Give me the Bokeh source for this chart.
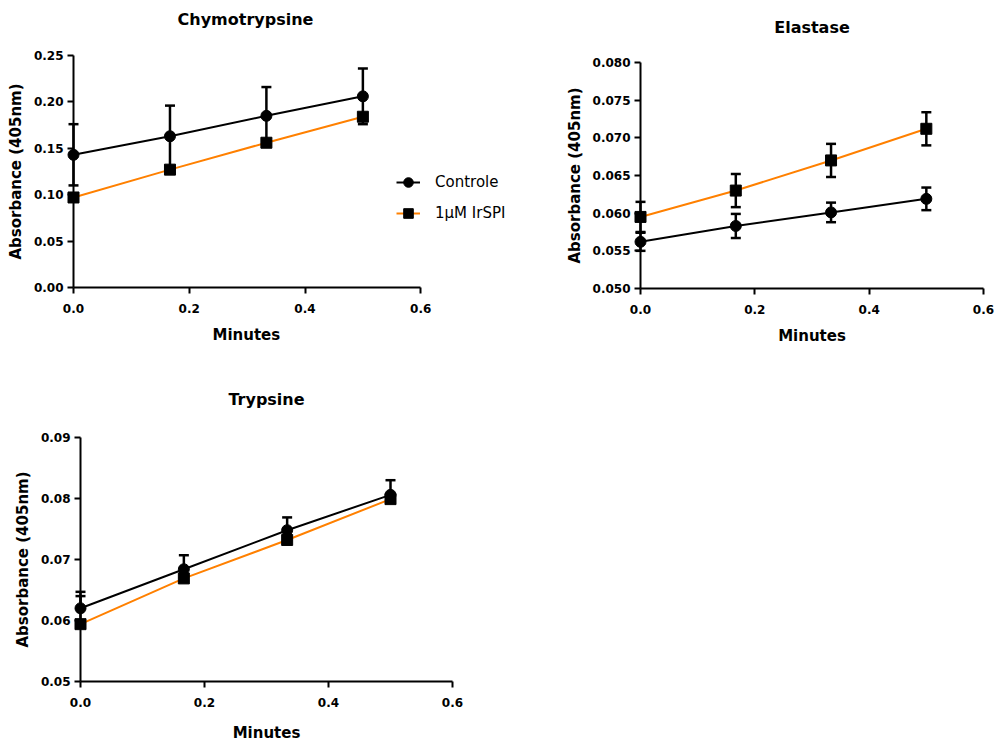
from bokeh.plotting import figure
from bokeh.models import (ColumnDataSource, Range1d, FixedTicker, NumeralTickFormatter,
                          Legend, LegendItem, Title)
from bokeh.layouts import column, row
from bokeh.embed import file_html
from bokeh.resources import INLINE

# ---------------- data ----------------
minutes = [0.0, 0.1667, 0.3333, 0.5]
x_ticks = [0.0, 0.2, 0.4, 0.6]

chymo_ctrl = [0.143, 0.163, 0.185, 0.206]
chymo_ctrl_err_up = [0.033, 0.033, 0.031, 0.030]
chymo_ctrl_err_dn = [0.033, 0.033, 0.031, 0.030]
chymo_irspi = [0.097, 0.127, 0.156, 0.184]
chymo_irspi_err_up = [0.003, 0.003, 0.003, 0.003]
chymo_irspi_err_dn = [0.003, 0.003, 0.003, 0.003]
chymo_yticks = [0.0, 0.05, 0.10, 0.15, 0.20, 0.25]

elast_ctrl = [0.0562, 0.0583, 0.0601, 0.0619]
elast_ctrl_err_up = [0.0012, 0.0016, 0.0013, 0.0015]
elast_ctrl_err_dn = [0.0012, 0.0016, 0.0013, 0.0015]
elast_irspi = [0.0595, 0.0630, 0.0670, 0.0712]
elast_irspi_err_up = [0.0020, 0.0022, 0.0022, 0.0022]
elast_irspi_err_dn = [0.0020, 0.0022, 0.0022, 0.0022]
elast_yticks = [0.050, 0.055, 0.060, 0.065, 0.070, 0.075, 0.080]

tryp_ctrl = [0.0620, 0.0684, 0.0748, 0.0806]
tryp_ctrl_err_up = [0.0027, 0.0023, 0.0021, 0.0024]
tryp_ctrl_err_dn = [0.0, 0.0, 0.0, 0.0]
tryp_irspi = [0.0594, 0.0669, 0.0732, 0.0799]
tryp_irspi_err_up = [0.0046, 0.0, 0.0, 0.0]
tryp_irspi_err_dn = [0.0, 0.0, 0.0, 0.0]
tryp_yticks = [0.05, 0.06, 0.07, 0.08, 0.09]

series_names = ["Controle", "1\u00b5M IrSPI"]
x_label = "Minutes"
y_label = "Absorbance (405nm)"
ORANGE = "#FF8000"
FONT = "DejaVu Sans"


def panel(title, ctrl, cu, cd, irs, iu, idn, yticks, yfmt,
          width, height, bl, br, bt, bb, spacer, x_end=0.6, title_offset=None,
          xlabel_offset=None, xlabel_standoff=13, with_legend=False):
    p = figure(width=width, height=height, output_backend="svg", toolbar_location=None,
               x_range=Range1d(0, x_end), y_range=Range1d(yticks[0], yticks[-1]),
               min_border_left=bl, min_border_right=br, min_border_top=bt,
               min_border_bottom=bb)
    p.outline_line_color = None
    p.grid.visible = False

    # spacer title (closest to the frame) then the real title above it
    p.add_layout(Title(text=" ", text_font_size="1px", standoff=spacer), "above")
    t = Title(text=title, text_font=FONT, text_font_size="16px", text_font_style="bold",
              text_color="black", standoff=0, vertical_align="top")
    if title_offset is None:
        t.align = "center"
    else:
        t.align = "left"
        t.offset = title_offset
    p.add_layout(t, "above")

    for ax in (p.xaxis[0], p.yaxis[0]):
        ax.axis_line_width = 2
        ax.axis_line_color = "black"
        ax.major_tick_line_width = 2
        ax.major_tick_line_color = "black"
        ax.major_tick_out = 6
        ax.major_tick_in = 0
        ax.minor_tick_line_color = None
        ax.major_label_text_font = FONT
        ax.major_label_text_font_style = "bold"
        ax.major_label_text_font_size = "12px"
        ax.major_label_text_color = "black"
        ax.axis_label_text_font = FONT
        ax.axis_label_text_font_style = "bold"
        ax.axis_label_text_font_size = "15px"
        ax.axis_label_text_color = "black"

    p.xaxis.ticker = FixedTicker(ticks=x_ticks)
    p.xaxis.bounds = (x_ticks[0], x_ticks[-1])
    p.xaxis.formatter = NumeralTickFormatter(format="0.0")
    p.xaxis.major_label_standoff = 10
    if xlabel_offset is None:
        p.xaxis.axis_label = x_label
        p.xaxis.axis_label_standoff = xlabel_standoff
    else:
        xt = Title(text=x_label, text_font=FONT, text_font_size="15px",
                   text_font_style="bold", text_color="black", standoff=20,
                   vertical_align="top", align="left", offset=xlabel_offset)
        p.add_layout(xt, "below")

    p.yaxis.ticker = FixedTicker(ticks=yticks)
    p.yaxis.formatter = NumeralTickFormatter(format=yfmt)
    p.yaxis.axis_label = y_label
    p.yaxis.major_label_standoff = 4
    p.yaxis.axis_label_standoff = 6

    src_c = ColumnDataSource(dict(x=minutes, y=ctrl,
                                  lo=[v - e for v, e in zip(ctrl, cd)],
                                  hi=[v + e for v, e in zip(ctrl, cu)]))
    src_i = ColumnDataSource(dict(x=minutes, y=irs,
                                  lo=[v - e for v, e in zip(irs, idn)],
                                  hi=[v + e for v, e in zip(irs, iu)]))

    li = p.line("x", "y", source=src_i, line_color=ORANGE, line_width=2)
    lc = p.line("x", "y", source=src_c, line_color="black", line_width=2)

    for src in (src_i, src_c):
        p.segment(x0="x", y0="lo", x1="x", y1="hi", source=src, line_color="black",
                  line_width=2.5, level="overlay")
        p.scatter("x", "hi", source=src, marker="dash", size=10, line_color="black",
                  line_width=2.5, level="overlay")
        p.scatter("x", "lo", source=src, marker="dash", size=10, line_color="black",
                  line_width=2.5, level="overlay")

    si = p.scatter("x", "y", source=src_i, marker="square", size=11,
                   fill_color="black", line_color="black", level="overlay")
    sc = p.scatter("x", "y", source=src_c, marker="circle", size=11,
                   fill_color="black", line_color="black", level="overlay")

    if with_legend:
        leg = Legend(items=[LegendItem(label=series_names[0], renderers=[lc, sc]),
                            LegendItem(label=series_names[1], renderers=[li, si])],
                     location=(323, 62), margin=0, padding=0,
                     border_line_alpha=0, background_fill_alpha=0,
                     glyph_width=24, glyph_height=24, label_height=24,
                     spacing=7, label_standoff=15,
                     label_text_font=FONT, label_text_font_size="15px",
                     label_text_color="black")
        p.add_layout(leg)
    return p


p1 = panel("Chymotrypsine", chymo_ctrl, chymo_ctrl_err_up, chymo_ctrl_err_dn,
           chymo_irspi, chymo_irspi_err_up, chymo_irspi_err_dn, chymo_yticks, "0.00",
           width=560, height=359, bl=73, br=24, bt=55, bb=72, spacer=22,
           x_end=0.8, title_offset=104, xlabel_offset=139, with_legend=True)
p2 = panel("Elastase", elast_ctrl, elast_ctrl_err_up, elast_ctrl_err_dn,
           elast_irspi, elast_irspi_err_up, elast_irspi_err_dn, elast_yticks, "0.000",
           width=434, height=359, bl=80, br=11, bt=62, bb=71, spacer=21,
           xlabel_standoff=10)
p3 = panel("Trypsine", tryp_ctrl, tryp_ctrl_err_up, tryp_ctrl_err_dn,
           tryp_irspi, tryp_irspi_err_up, tryp_irspi_err_dn, tryp_yticks, "0.00",
           width=472, height=385, bl=80, br=20, bt=78, bb=60, spacer=24,
           xlabel_standoff=14)

layout = column(row(column(p1), column(p2)), p3)
open("out.html", "w").write(file_html(layout, INLINE))
